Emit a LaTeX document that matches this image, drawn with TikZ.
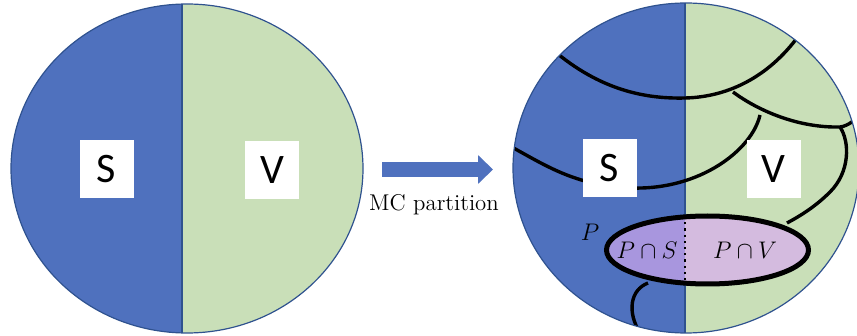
\documentclass[tikz,border=0pt]{standalone}
\usepackage{fontspec}
\newfontfamily\boxfont{Carlito}
\usetikzlibrary{arrows.meta}

\definecolor{sblue}{HTML}{4F71BE}
\definecolor{vgreen}{HTML}{C9DFB8}
\definecolor{rimblue}{HTML}{2F528F}
\definecolor{psviolet}{HTML}{A896DE}
\definecolor{pvlilac}{HTML}{D4BBDF}

\tikzset{
	letterbox/.style={fill=white, inner sep=0pt, minimum width=27pt, minimum height=29pt, font=\boxfont\fontsize{21}{21}\selectfont},
	rim/.style={draw=rimblue, line width=0.6pt},
	cut/.style={line width=1.7pt},
	mathlabel/.style={inner sep=0pt, font=\fontsize{12}{12}\selectfont},
}

\begin{document}
\begin{tikzpicture}[x=0.5pt, y=-0.5pt]
	
	\useasboundingbox (0,0) rectangle (857,336);
	
	\begin{scope}
		\clip (187,168.5) ellipse [x radius=176, y radius=164.5];
		\fill [sblue] (0,0) rectangle (182,336);
		\fill [vgreen] (182,0) rectangle (370,336);
		\draw [rimblue, line width=0.6pt] (182,0) -- (182,336);
	\end{scope}
	\draw [rim] (187,168.5) ellipse [x radius=176, y radius=164.5];
	
	\node [letterbox] (sleft) at (106.5,169) {S};
	\node [letterbox] (vleft) at (272,170) {V};
	
	\coordinate (arrowtail) at (382,169.5);
	\coordinate (arrowtip) at (493,169.5);
	\draw [sblue, line width=7.5pt, -{Triangle[length=7.5pt, width=14pt]}] (arrowtail) -- (arrowtip);
	\node [font=\fontsize{11.4}{12}\selectfont] (mclabel) at (434,205) {MC partition};
	
	\begin{scope}
		\clip (686,168) ellipse [x radius=173, y radius=165];
		\fill [sblue] (500,0) rectangle (685,336);
		\fill [vgreen] (685,0) rectangle (870,336);
		\draw [rimblue, line width=0.6pt] (685,0) -- (685,336);
		
		\draw [cut] (553,50) .. controls (600,90) and (645,99) .. (685,98) .. controls (730,97) and (772,75) .. (802,31);
		
		\draw [cut] (733,92) .. controls (760,112) and (800,128) .. (840,127) .. controls (848,126) and (856,120) .. (862,111);
		
		\draw [cut] (840,127) .. controls (850,142) and (850,172) .. (830,192) .. controls (815,207) and (800,216) .. (787,223);
		
		\draw [cut] (508,145) .. controls (545,165) and (575,186) .. (632,188) .. controls (700,190) and (752,150) .. (760,115);
		
		\draw [cut] (648,283) .. controls (630,290) and (627,312) .. (640,333);
	\end{scope}
	\draw [rim] (686,168) ellipse [x radius=173, y radius=165];
	
	\begin{scope}
		\clip (707.5,250) ellipse [x radius=101, y radius=34];
		\fill [psviolet] (600,210) rectangle (685,290);
		\fill [pvlilac] (685,210) rectangle (815,290);
	\end{scope}
	\draw [line width=1.1pt, dotted] (685,216) -- (685,284);
	\draw [line width=2.5pt] (707.5,250) ellipse [x radius=101, y radius=34];
	
	\node [letterbox] (sright) at (609.5,168.5) {S};
	\node [letterbox] (vright) at (773.5,169.5) {V};
	
	\node [mathlabel] (pmark) at (590,232) {$P$};
	\node [mathlabel] (pscap) at (647,250) {$P\cap S$};
	\node [mathlabel] (pvcap) at (745,250) {$P\cap V$};
	
\end{tikzpicture}
\end{document}
